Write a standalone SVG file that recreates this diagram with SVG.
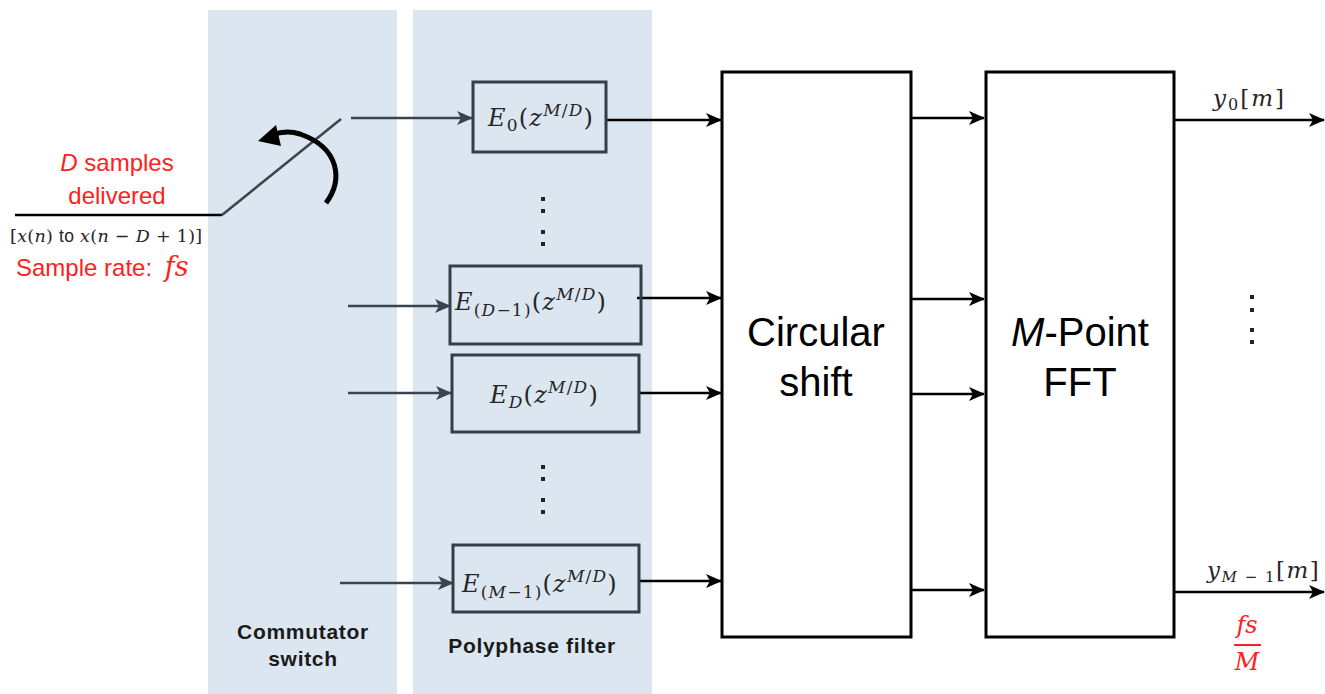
<svg xmlns="http://www.w3.org/2000/svg" width="1325" height="694" viewBox="0 0 1325 694">
<style>
.panel{fill:#dce6f1}
.fbox{fill:none;stroke:#343e4a;stroke-width:3}
.big{fill:none;stroke:#000;stroke-width:3}
.ln{stroke:#000;stroke-width:2.5;fill:none}
.lg{stroke:#3a4450;stroke-width:2.5;fill:none}
.m{font-family:"DejaVu Serif","Liberation Serif",serif;fill:#262626}
.e{letter-spacing:1.2px}
.i{font-style:italic}
.sans{font-family:"Liberation Sans",Arial,sans-serif}
.red{fill:#ff2020}
.lbl{font-family:"Liberation Sans",Arial,sans-serif;font-weight:bold;font-size:21px;letter-spacing:0.7px;fill:#1a1a1a;text-anchor:middle}
.blk{font-family:"Liberation Sans",Arial,sans-serif;font-size:40px;fill:#000;text-anchor:middle}
.dot{fill:#222}
</style>
<defs>
<marker id="ab" markerUnits="userSpaceOnUse" markerWidth="16" markerHeight="14" refX="15" refY="7" orient="auto">
<path d="M0,0 L16,7 L0,14 L4,7 Z" fill="#000"/>
</marker>
<marker id="ag" markerUnits="userSpaceOnUse" markerWidth="16" markerHeight="14" refX="15" refY="7" orient="auto">
<path d="M0,0 L16,7 L0,14 L4,7 Z" fill="#3a4450"/>
</marker>
</defs>

<g id="panels">
<rect class="panel" x="208" y="10" width="189" height="684"/>
<rect class="panel" x="413" y="10" width="239" height="684"/>
</g>

<g id="connectors">
<line class="ln" x1="15" y1="215" x2="222" y2="215"/>
<line class="lg" x1="222" y1="215" x2="341" y2="119"/>
<path d="M326,203 C343,180 340,148 300,134 C290,131 280,132 272,135" stroke="#000" stroke-width="5" fill="none"/>
<polygon points="258,141 276,125 281,146" fill="#000"/>
<line class="lg" x1="351" y1="118" x2="472" y2="118" marker-end="url(#ag)"/>
<line class="lg" x1="348" y1="306" x2="450" y2="306" marker-end="url(#ag)"/>
<line class="lg" x1="348" y1="393" x2="451" y2="393" marker-end="url(#ag)"/>
<line class="lg" x1="340" y1="583" x2="453" y2="583" marker-end="url(#ag)"/>
<line class="ln" x1="606" y1="120" x2="721" y2="120" marker-end="url(#ab)"/>
<line class="ln" x1="637" y1="298" x2="721" y2="298" marker-end="url(#ab)"/>
<line class="ln" x1="639" y1="393" x2="721" y2="393" marker-end="url(#ab)"/>
<line class="ln" x1="639" y1="581" x2="721" y2="581" marker-end="url(#ab)"/>
<line class="ln" x1="911" y1="118" x2="984" y2="118" marker-end="url(#ab)"/>
<line class="ln" x1="911" y1="299" x2="984" y2="299" marker-end="url(#ab)"/>
<line class="ln" x1="911" y1="394" x2="984" y2="394" marker-end="url(#ab)"/>
<line class="ln" x1="911" y1="590" x2="984" y2="590" marker-end="url(#ab)"/>
<line class="ln" x1="1175" y1="120" x2="1324" y2="120" marker-end="url(#ab)"/>
<line class="ln" x1="1175" y1="592" x2="1324" y2="592" marker-end="url(#ab)"/>
</g>

<g id="input-labels">
<text class="sans red" x="117" y="171" font-size="24" text-anchor="middle"><tspan class="i">D</tspan> samples</text>
<text class="sans red" x="117" y="204" font-size="24" text-anchor="middle">delivered</text>
<text class="m" x="10" y="242" font-size="17.5" letter-spacing="0.3">[<tspan class="i">x</tspan>(<tspan class="i">n</tspan>) <tspan class="sans">to</tspan> <tspan class="i">x</tspan>(<tspan class="i">n</tspan> − <tspan class="i">D</tspan> + 1)]</text>
<text class="sans red" x="16" y="276" font-size="24">Sample rate: <tspan class="m i red" font-size="27" dx="6">fs</tspan></text>
</g>

<g id="E0">
<rect class="fbox" x="473" y="82" width="133" height="70"/>
<text class="m e" x="488" y="126" font-size="24"><tspan class="i">E</tspan><tspan font-size="17" dy="5">0</tspan><tspan dy="-5">(</tspan><tspan class="i">z</tspan><tspan class="i" font-size="17" dy="-10">M</tspan><tspan font-size="17">/</tspan><tspan class="i" font-size="17">D</tspan><tspan dy="10">)</tspan></text>
</g>
<g id="ED1">
<rect class="fbox" x="450" y="266" width="191" height="78"/>
<text class="m e" x="455" y="310" font-size="24"><tspan class="i">E</tspan><tspan font-size="17" dy="6">(</tspan><tspan class="i" font-size="17">D</tspan><tspan font-size="17">−1)</tspan><tspan dy="-6">(</tspan><tspan class="i">z</tspan><tspan class="i" font-size="17" dy="-10">M</tspan><tspan font-size="17">/</tspan><tspan class="i" font-size="17">D</tspan><tspan dy="10">)</tspan></text>
</g>
<g id="ED">
<rect class="fbox" x="452" y="355" width="187" height="77"/>
<text class="m e" x="490" y="403" font-size="24"><tspan class="i">E</tspan><tspan class="i" font-size="17" dy="5">D</tspan><tspan dy="-5">(</tspan><tspan class="i">z</tspan><tspan class="i" font-size="17" dy="-10">M</tspan><tspan font-size="17">/</tspan><tspan class="i" font-size="17">D</tspan><tspan dy="10">)</tspan></text>
</g>
<g id="EM1">
<rect class="fbox" x="453" y="545" width="186" height="67"/>
<text class="m e" x="462" y="592" font-size="24"><tspan class="i">E</tspan><tspan font-size="17" dy="6">(</tspan><tspan class="i" font-size="17">M</tspan><tspan font-size="17">−1)</tspan><tspan dy="-6">(</tspan><tspan class="i">z</tspan><tspan class="i" font-size="17" dy="-10">M</tspan><tspan font-size="17">/</tspan><tspan class="i" font-size="17">D</tspan><tspan dy="10">)</tspan></text>
</g>

<g id="dots">
<rect class="dot" x="541" y="197" width="4" height="4"/>
<rect class="dot" x="541" y="209" width="4" height="4"/>
<rect class="dot" x="541" y="230" width="4" height="4"/>
<rect class="dot" x="541" y="242" width="4" height="4"/>
<rect class="dot" x="541" y="465" width="4" height="4"/>
<rect class="dot" x="541" y="477" width="4" height="4"/>
<rect class="dot" x="541" y="498" width="4" height="4"/>
<rect class="dot" x="541" y="510" width="4" height="4"/>
<rect class="dot" x="1250" y="295" width="4" height="4"/>
<rect class="dot" x="1250" y="308" width="4" height="4"/>
<rect class="dot" x="1250" y="328" width="4" height="4"/>
<rect class="dot" x="1250" y="340" width="4" height="4"/>
</g>

<g id="circular-shift">
<rect class="big" x="722" y="72" width="189" height="565"/>
<text class="blk" x="816" y="346">Circular</text>
<text class="blk" x="816" y="396">shift</text>
</g>

<g id="fft">
<rect class="big" x="986" y="72" width="188" height="565"/>
<text class="blk" x="1080" y="346"><tspan font-style="italic">M</tspan>-Point</text>
<text class="blk" x="1080" y="396">FFT</text>
</g>

<g id="outputs">
<text class="m" x="1213" y="106" font-size="23" letter-spacing="2"><tspan class="i">y</tspan><tspan font-size="16" dy="4">0</tspan><tspan dy="-4">[</tspan><tspan class="i">m</tspan>]</text>
<text class="m" x="1207" y="578" font-size="23" letter-spacing="1.5"><tspan class="i">y</tspan><tspan font-size="15" dy="4"><tspan class="i">M</tspan> − 1</tspan><tspan dy="-4">[</tspan><tspan class="i">m</tspan>]</text>
<text class="m i red" x="1247" y="633" font-size="24" text-anchor="middle">fs</text>
<line x1="1234" y1="645" x2="1261" y2="645" stroke="#ff2020" stroke-width="2"/>
<text class="m i red" x="1247" y="670" font-size="24" text-anchor="middle">M</text>
</g>

<g id="panel-labels">
<text class="lbl" x="303" y="639">Commutator</text>
<text class="lbl" x="303" y="666">switch</text>
<text class="lbl" x="532" y="653">Polyphase filter</text>
</g>
</svg>
